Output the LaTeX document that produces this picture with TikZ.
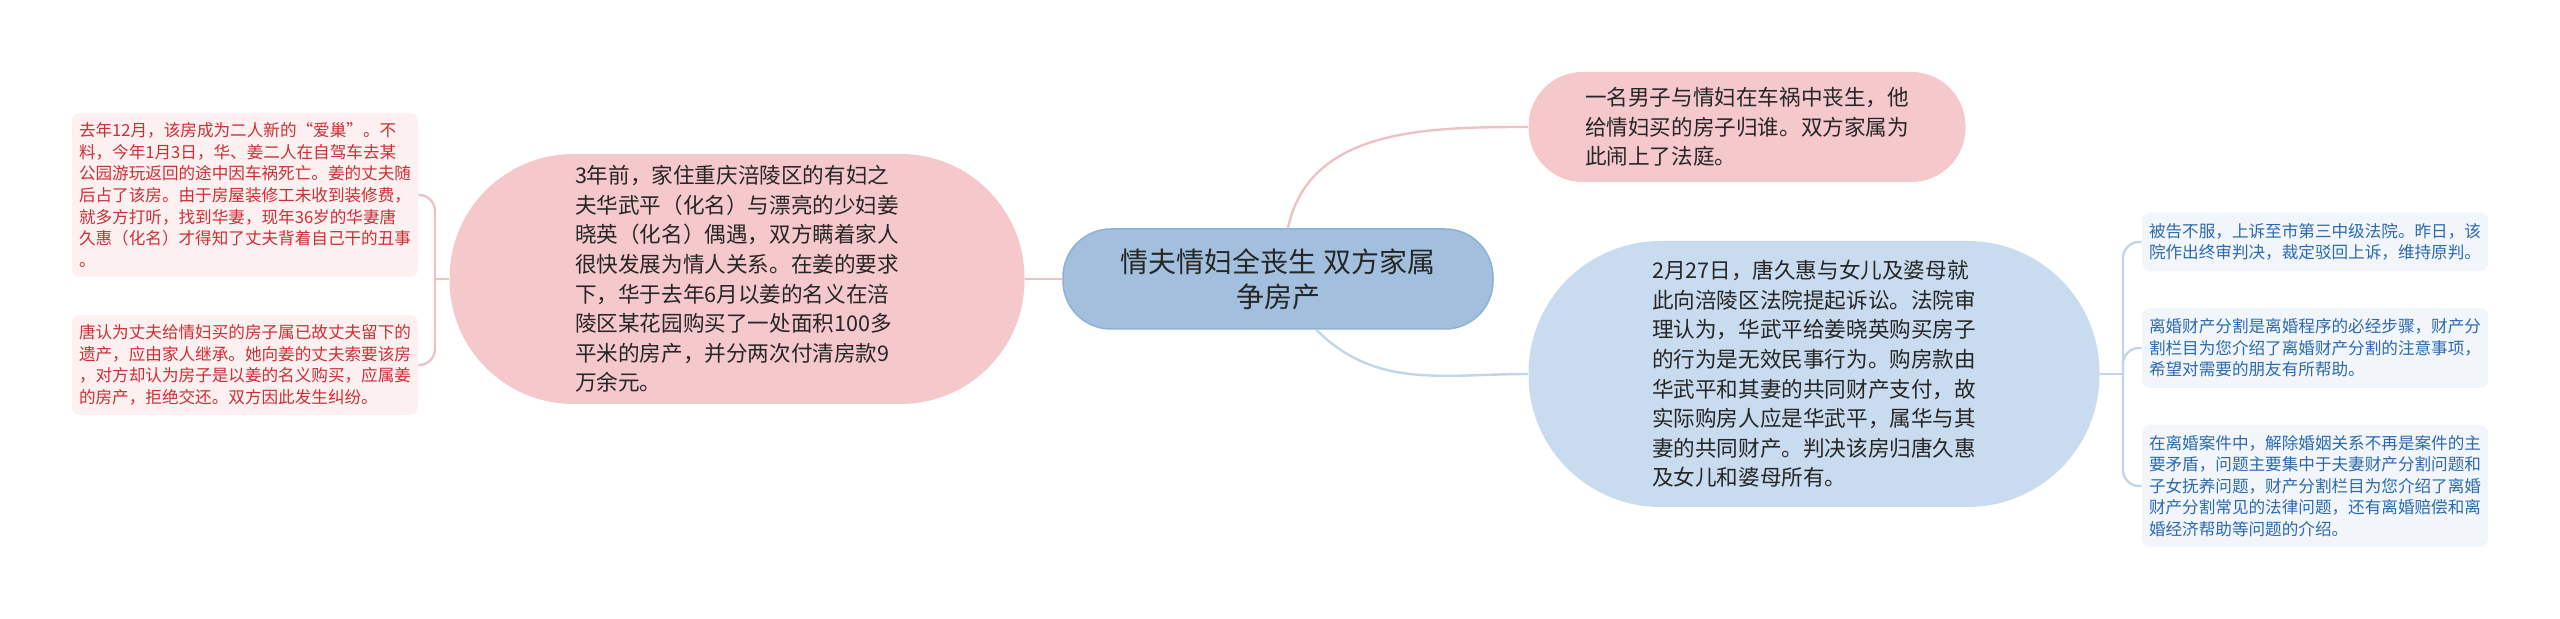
\documentclass[tikz,border=0pt]{standalone}
\usepackage{fontspec}
\setmainfont{Noto Sans CJK SC}
\definecolor{pinkfill}{HTML}{F5C9CC}
\definecolor{bluefill}{HTML}{C9DBEE}
\definecolor{mainfill}{HTML}{A2C0DD}
\definecolor{mainline}{HTML}{8FB1D3}
\definecolor{leafpinkfill}{HTML}{FCF0F1}
\definecolor{leafpinktext}{HTML}{CC2F35}
\definecolor{leafbluefill}{HTML}{F2F6FB}
\definecolor{leafbluetext}{HTML}{2C6AB0}
\definecolor{linkpink}{HTML}{EEC2C5}
\definecolor{linkblue}{HTML}{C3D5E8}
\begin{document}
\begin{tikzpicture}[x=0.5pt,y=-0.5pt,
  topic/.style={rectangle,rounded corners=24pt,fill=mainfill,draw=mainline,line width=0.75pt,
    minimum width=215pt,minimum height=50pt,align=center,text=black!85,
    font=\fontsize{14}{17.5}\selectfont},
  bigpink/.style={rectangle,fill=pinkfill,align=left,text=black!85,
    font=\fontsize{10.8}{14.8}\selectfont},
  bigblue/.style={bigpink,fill=bluefill},
  leafpink/.style={rectangle,rounded corners=4pt,fill=leafpinkfill,text=leafpinktext,align=left,
    minimum width=173pt,inner sep=0pt,font=\fontsize{8.3}{10.8}\selectfont},
  leafblue/.style={leafpink,fill=leafbluefill,text=leafbluetext},
  linkL/.style={draw=linkpink,line width=1.2pt},
  linkR/.style={draw=linkblue,line width=1.2pt}]
\useasboundingbox (0,0) rectangle (2560,619);
% main topic
\node[topic] (main) at (1278,279) {情夫情妇全丧生 双方家属\\争房产};
% first level
\node[bigpink,minimum width=287.5pt,minimum height=125pt,rounded corners=62pt] (story) at (737,279)
  {3年前，家住重庆涪陵区的有妇之\\夫华武平（化名）与漂亮的少妇姜\\晓英（化名）偶遇，双方瞒着家人\\很快发展为情人关系。在姜的要求\\下，华于去年6月以姜的名义在涪\\陵区某花园购买了一处面积100多\\平米的房产，并分两次付清房款9\\万余元。};
\node[bigpink,minimum width=218.5pt,minimum height=55pt,rounded corners=27pt] (intro) at (1747,127)
  {一名男子与情妇在车祸中丧生，他\\给情妇买的房子归谁。双方家属为\\此闹上了法庭。};
\node[bigblue,minimum width=285.5pt,minimum height=133pt,rounded corners=66pt] (court) at (1814,374)
  {2月27日，唐久惠与女儿及婆母就\\此向涪陵区法院提起诉讼。法院审\\理认为，华武平给姜晓英购买房子\\的行为是无效民事行为。购房款由\\华武平和其妻的共同财产支付，故\\实际购房人应是华武平，属华与其\\妻的共同财产。判决该房归唐久惠\\及女儿和婆母所有。};
% leaves
\node[leafpink,minimum height=82pt] (nest) at (245,195)
  {去年12月，该房成为二人新的“爱巢”。不\\料，今年1月3日，华、姜二人在自驾车去某\\公园游玩返回的途中因车祸死亡。姜的丈夫随\\后占了该房。由于房屋装修工未收到装修费，\\就多方打听，找到华妻，现年36岁的华妻唐\\久惠（化名）才得知了丈夫背着自己干的丑事\\。};
\node[leafpink,minimum height=50pt] (dispute) at (245,365)
  {唐认为丈夫给情妇买的房子属已故丈夫留下的\\遗产，应由家人继承。她向姜的丈夫索要该房\\，对方却认为房子是以姜的名义购买，应属姜\\的房产，拒绝交还。双方因此发生纠纷。};
\node[leafblue,minimum height=29.5pt] (appeal) at (2315,242)
  {被告不服，上诉至市第三中级法院。昨日，该\\院作出终审判决，裁定驳回上诉，维持原判。};
\node[leafblue,minimum height=40pt] (split) at (2315,348)
  {离婚财产分割是离婚程序的必经步骤，财产分\\割栏目为您介绍了离婚财产分割的注意事项，\\希望对需要的朋友有所帮助。};
\node[leafblue,minimum height=61pt] (divorce) at (2315,486)
  {在离婚案件中，解除婚姻关系不再是案件的主\\要矛盾，问题主要集中于夫妻财产分割问题和\\子女抚养问题，财产分割栏目为您介绍了离婚\\财产分割常见的法律问题，还有离婚赔偿和离\\婚经济帮助等问题的介绍。};
% links from the topic
\draw[linkL] (main.west) -- (story.east);
\draw[linkL] (main.79) to[out=78,in=180] (intro.west);
\draw[linkR] (main.-53) to[out=-45,in=180] (court.west);
% brackets
\coordinate (lj) at (435,279);
\coordinate (rj) at (2123,374);
\draw[linkL] (story.west) -- (lj);
\foreach \leaf in {nest,dispute}
  \draw[linkL,rounded corners=8pt] (lj) |- (\leaf.east);
\draw[linkR] (court.east) -- (rj);
\foreach \leaf in {appeal,split,divorce}
  \draw[linkR,rounded corners=8pt] (rj) |- (\leaf.west);
\end{tikzpicture}
\end{document}
